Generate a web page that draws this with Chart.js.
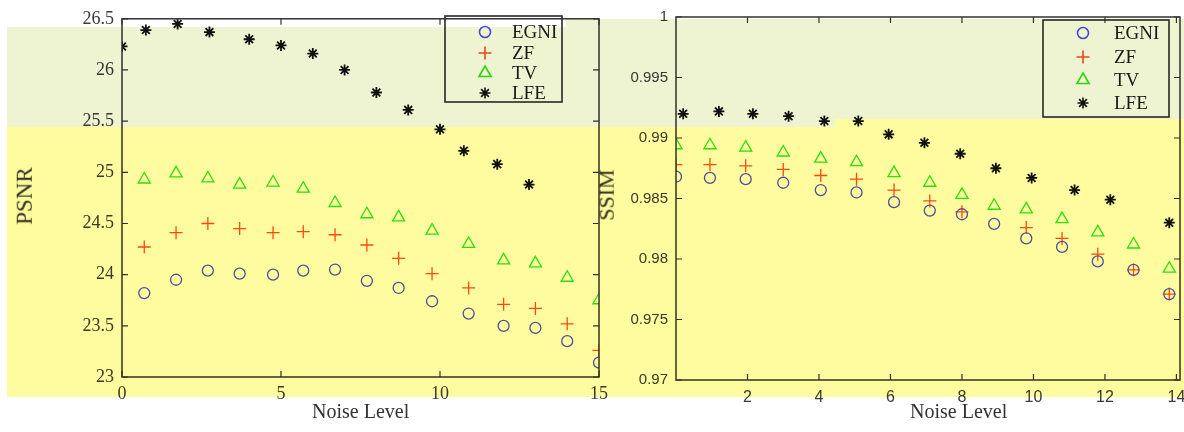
<!DOCTYPE html>
<html>
<head>
<meta charset="utf-8">
<script src="https://cdn.jsdelivr.net/npm/chart.js@4.4.1/dist/chart.umd.min.js"></script>
<style>
    body { margin: 0; width: 1184px; height: 432px; overflow: hidden; background: #fff; position: relative; }
    .band { position: absolute; }
    canvas { position: absolute; top: 0; mix-blend-mode: multiply; }
    .lbl { position: absolute; font-family: "Liberation Serif", serif; color: #333; mix-blend-mode: multiply; white-space: nowrap; line-height: 24px; }
</style>
</head>
<body>
<!-- background bands of the scan -->
<div class="band" style="left:7px;top:27px;width:559px;height:100px;background:#eef4d2"></div>
<div class="band" style="left:566px;top:19px;width:618px;height:108px;background:#eef4d2"></div>
<div class="band" style="left:7px;top:127px;width:828px;height:270px;background:#fefc9f"></div>
<div class="band" style="left:835px;top:119px;width:349px;height:278px;background:#fefc9f"></div>

<canvas id="psnrChart" width="630" height="432" style="left:0"></canvas>
<canvas id="ssimChart" width="620" height="432" style="left:590px"></canvas>

<div class="lbl" style="left:312px;top:399px;font-size:20px">Noise Level</div>
<div class="lbl" style="left:910px;top:399px;font-size:20px">Noise Level</div>
<div class="lbl" style="left:-4px;top:184px;font-size:23px;transform:rotate(-90deg)">PSNR</div>
<div class="lbl" style="left:581px;top:183px;font-size:22px;transform:rotate(-90deg)">SSIM</div>

<script>
// Datos
const methods = ['EGNI', 'ZF', 'TV', 'LFE'];

// PSNR (izquierda)
const psnrLevels = [0.7, 1.7, 2.7, 3.7, 4.75, 5.7, 6.7, 7.7, 8.7, 9.75, 10.9, 12, 13, 14, 15];
const psnrLfeLevels = [0, 0.75, 1.75, 2.75, 4, 5, 6, 7, 8, 9, 10, 10.75, 11.8, 12.8];
const egniPsnr = [23.82, 23.95, 24.04, 24.01, 24.00, 24.04, 24.05, 23.94, 23.87, 23.74, 23.62, 23.50, 23.48, 23.35, 23.14];
const zfPsnr = [24.27, 24.41, 24.50, 24.45, 24.41, 24.42, 24.39, 24.29, 24.16, 24.01, 23.87, 23.71, 23.67, 23.52, 23.26];
const tvPsnr = [24.93, 24.99, 24.94, 24.88, 24.90, 24.84, 24.70, 24.59, 24.56, 24.43, 24.30, 24.14, 24.11, 23.97, 23.75];
const lfePsnr = [26.23, 26.39, 26.45, 26.37, 26.30, 26.24, 26.16, 26.00, 25.78, 25.61, 25.42, 25.21, 25.08, 24.88];
const psnrXTicks = [0, 5, 10, 15];
const psnrYTicks = [23, 23.5, 24, 24.5, 25, 25.5, 26, 26.5];

// SSIM (derecha)
const ssimLevels = [0, 0.95, 1.95, 3, 4.05, 5.05, 6.1, 7.1, 8, 8.9, 9.8, 10.8, 11.8, 12.8, 13.8];
const ssimLfeLevels = [0.2, 1.2, 2.15, 3.15, 4.15, 5.1, 5.95, 6.95, 7.95, 8.95, 9.95, 11.15, 12.15, 13.8];
const egniSsim = [0.9868, 0.9867, 0.9866, 0.9863, 0.9857, 0.9855, 0.9847, 0.9840, 0.9837, 0.9829, 0.9817, 0.9810, 0.9798, 0.9791, 0.9771];
const zfSsim = [0.9878, 0.9878, 0.9877, 0.9874, 0.9869, 0.9866, 0.9857, 0.9848, 0.9839, null, 0.9826, 0.9817, 0.9804, 0.9791, 0.9771];
const tvSsim = [0.9894, 0.9894, 0.9892, 0.9888, 0.9883, 0.9880, 0.9871, 0.9863, 0.9853, 0.9844, 0.9841, 0.9833, 0.9822, 0.9812, 0.9792];
const lfeSsim = [0.9920, 0.9922, 0.9920, 0.9918, 0.9914, 0.9914, 0.9903, 0.9896, 0.9887, 0.9875, 0.9867, 0.9857, 0.9849, 0.9830];
const ssimXTicks = [2, 4, 6, 8, 10, 12, 14];
const ssimYTicks = [0.97, 0.975, 0.98, 0.985, 0.99, 0.995, 1];

const styles = {
    EGNI: { color: '#5050f0', pointStyle: 'circle', radius: 5.5 },
    ZF: { color: '#ff4a14', pointStyle: 'cross', radius: 6.5 },
    TV: { color: '#2ee012', pointStyle: 'triangle', radius: 7 },
    LFE: { color: '#111111', pointStyle: 'star', radius: 5.5 }
};

function toPoints(xs, ys) {
    return xs.map((x, i) => ({ x: x, y: ys[i] }));
}

function makeDataset(name, xs, ys) {
    const s = styles[name];
    return {
        label: name,
        data: toPoints(xs, ys),
        showLine: false,
        pointStyle: s.pointStyle,
        pointRadius: s.radius,
        pointHoverRadius: s.radius,
        pointBorderWidth: name === 'LFE' ? 1.8 : 1.3,
        borderColor: s.color,
        backgroundColor: 'rgba(0,0,0,0)'
    };
}

// Marco con marcas hacia dentro, estilo MATLAB
const framePlugin = {
    id: 'frame',
    afterDatasetsDraw(chart) {
        const { ctx, chartArea: a, scales } = chart;
        ctx.save();
        ctx.strokeStyle = '#333333';
        ctx.lineWidth = 1.5;
        ctx.strokeRect(a.left, a.top, a.right - a.left, a.bottom - a.top);
        ctx.lineWidth = 1.2;
        ctx.beginPath();
        scales.x.ticks.forEach(t => {
            const px = scales.x.getPixelForValue(t.value);
            ctx.moveTo(px, a.bottom); ctx.lineTo(px, a.bottom - 6);
            ctx.moveTo(px, a.top); ctx.lineTo(px, a.top + 6);
        });
        scales.y.ticks.forEach(t => {
            const py = scales.y.getPixelForValue(t.value);
            ctx.moveTo(a.left, py); ctx.lineTo(a.left + 6, py);
            ctx.moveTo(a.right, py); ctx.lineTo(a.right - 6, py);
        });
        ctx.stroke();
        ctx.restore();
    }
};

// Leyenda dibujada dentro del área, sin fondo
const boxLegendPlugin = {
    id: 'boxLegend',
    afterDraw(chart, args, opts) {
        const ctx = chart.ctx;
        ctx.save();
        ctx.strokeStyle = '#2a2a2a';
        ctx.lineWidth = 1.6;
        ctx.strokeRect(opts.left, opts.top, opts.width, opts.height);
        ctx.font = '19px "Liberation Serif", serif';
        ctx.textBaseline = 'middle';
        chart.data.datasets.forEach((ds, i) => {
            const y = opts.rowY[i];
            ctx.strokeStyle = ds.borderColor;
            ctx.fillStyle = 'rgba(0,0,0,0)';
            Chart.helpers.drawPoint(ctx, {
                pointStyle: ds.pointStyle,
                radius: ds.pointRadius,
                borderWidth: ds.pointBorderWidth,
                rotation: 0
            }, opts.markerX, y);
            ctx.fillStyle = '#1a1a1a';
            ctx.fillText(ds.label, opts.textX, y + 1);
        });
        ctx.restore();
    }
};

function buildChart(id, cfg) {
    return new Chart(document.getElementById(id), {
        type: 'scatter',
        data: { datasets: cfg.datasets },
        plugins: [framePlugin, boxLegendPlugin],
        options: {
            responsive: false,
            animation: false,
            devicePixelRatio: 1,
            layout: { padding: cfg.padding },
            plugins: {
                legend: { display: false },
                tooltip: { enabled: false },
                boxLegend: cfg.legend
            },
            scales: {
                x: {
                    type: 'linear',
                    min: cfg.xMin,
                    max: cfg.xMax,
                    grid: { display: false, drawTicks: false },
                    border: { display: false },
                    afterBuildTicks: s => { s.ticks = cfg.xTicks.map(v => ({ value: v })); },
                    afterFit: s => { s.height = cfg.xHeight; },
                    ticks: {
                        autoSkip: false,
                        maxRotation: 0,
                        padding: cfg.xPad,
                        color: '#3a3a3a',
                        font: cfg.tickFontX,
                        callback: v => String(v)
                    }
                },
                y: {
                    type: 'linear',
                    min: cfg.yMin,
                    max: cfg.yMax,
                    grid: { display: false, drawTicks: false },
                    border: { display: false },
                    afterBuildTicks: s => { s.ticks = cfg.yTicks.map(v => ({ value: v })); },
                    afterFit: s => { s.width = cfg.yWidth; },
                    ticks: {
                        autoSkip: false,
                        padding: 8,
                        color: '#3a3a3a',
                        font: cfg.tickFontY,
                        callback: v => String(Number(v.toFixed(3)))
                    }
                }
            }
        }
    });
}

document.addEventListener('DOMContentLoaded', function() {
    buildChart('psnrChart', {
        datasets: [
            makeDataset('EGNI', psnrLevels, egniPsnr),
            makeDataset('ZF', psnrLevels, zfPsnr),
            makeDataset('TV', psnrLevels, tvPsnr),
            makeDataset('LFE', psnrLfeLevels, lfePsnr)
        ],
        padding: { top: 10, right: 31, bottom: 0, left: 0 },
        xMin: 0, xMax: 15, xTicks: psnrXTicks,
        yMin: 23, yMax: 26.5, yTicks: psnrYTicks,
        xHeight: 55, yWidth: 122, xPad: 6,
        tickFontX: { family: '"Liberation Serif", serif', size: 18 },
        tickFontY: { family: '"Liberation Serif", serif', size: 18 },
        legend: { left: 445, top: 16, width: 117, height: 86, markerX: 485, textX: 512, rowY: [32, 53, 73, 93] }
    });

    buildChart('ssimChart', {
        datasets: [
            makeDataset('EGNI', ssimLevels, egniSsim),
            makeDataset('ZF', ssimLevels, zfSsim),
            makeDataset('TV', ssimLevels, tvSsim),
            makeDataset('LFE', ssimLfeLevels, lfeSsim)
        ],
        padding: { top: 12, right: 30, bottom: 0, left: 0 },
        xMin: 0, xMax: 14.1, xTicks: ssimXTicks,
        yMin: 0.97, yMax: 1, yTicks: ssimYTicks,
        xHeight: 52, yWidth: 86, xPad: 8,
        tickFontX: { family: '"Liberation Sans", sans-serif', size: 16 },
        tickFontY: { family: '"Liberation Sans", sans-serif', size: 15 },
        legend: { left: 453, top: 20, width: 126, height: 97, markerX: 493, textX: 524, rowY: [33, 57, 80, 103] }
    });
});
</script>
</body>
</html>
